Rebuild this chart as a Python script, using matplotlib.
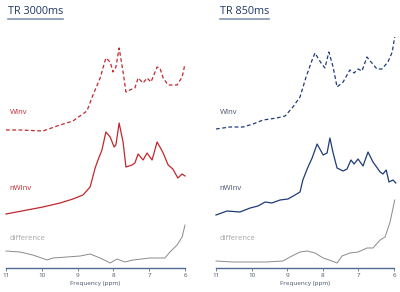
import matplotlib
matplotlib.use("Agg")
import matplotlib.pyplot as plt

# ---- data (ppm, relative intensity) ----
L_winv_ppm = [11.00, 10.61, 9.97, 9.49, 9.13, 8.74, 8.57, 8.37, 8.21, 8.09, 8.01, 7.93, 7.84, 7.73, 7.65,
              7.48, 7.40, 7.31, 7.17, 7.06, 6.95, 6.78, 6.70, 6.61, 6.47, 6.22, 6.08, 6.00]
L_winv_val = [138, 138, 137, 143, 147, 157, 173, 190, 210, 206, 196, 201, 220, 196, 176,
              179, 180, 190, 185, 190, 186, 201, 200, 190, 183, 183, 191, 204]

L_nwinv_ppm = [11.00, 10.41, 9.97, 9.49, 9.13, 8.85, 8.65, 8.51, 8.43, 8.32, 8.21, 8.09, 7.98, 7.93, 7.84,
               7.73, 7.65, 7.48, 7.40, 7.31, 7.17, 7.06, 6.92, 6.78, 6.70, 6.61, 6.47, 6.34, 6.20, 6.08, 6.00]
L_nwinv_val = [54, 58, 61, 65, 69, 73, 81, 100, 108, 118, 136, 131, 121, 123, 145,
               126, 101, 103, 105, 114, 108, 115, 108, 126, 121, 115, 103, 99, 90, 94, 92]

L_diff_ppm = [11.00, 10.61, 10.25, 9.85, 9.69, 9.30, 8.93, 8.65, 8.37, 8.09, 7.90, 7.68, 7.45, 6.98,
              6.56, 6.42, 6.22, 6.08, 6.00]
L_diff_val = [17, 16, 13, 8, 10, 11, 12, 14, 10, 5, 9, 6, 8, 10, 10, 16, 23, 31, 43]

R_winv_ppm = [11.00, 10.61, 10.24, 9.96, 9.68, 9.29, 9.06, 8.84, 8.64, 8.47, 8.30, 8.22, 8.05, 7.94, 7.83,
              7.71, 7.60, 7.43, 7.24, 7.12, 7.01, 6.90, 6.76, 6.62, 6.48, 6.34, 6.17, 6.05, 5.98]
R_winv_val = [139, 141, 141, 144, 148, 150, 152, 161, 171, 191, 208, 215, 205, 200, 216,
              201, 181, 186, 198, 195, 199, 197, 211, 205, 199, 199, 206, 216, 231]

R_nwinv_ppm = [11.00, 10.69, 10.33, 10.04, 9.82, 9.62, 9.43, 9.20, 8.98, 8.78, 8.64, 8.56, 8.44, 8.30, 8.16,
               7.99, 7.88, 7.80, 7.71, 7.60, 7.43, 7.32, 7.21, 7.12, 7.01, 6.87, 6.73, 6.59, 6.39, 6.31,
               6.22, 6.14, 6.03, 5.95]
R_nwinv_val = [53, 57, 56, 60, 62, 66, 65, 68, 69, 73, 76, 88, 99, 110, 124,
               113, 115, 130, 115, 100, 97, 99, 108, 104, 109, 102, 116, 106, 96, 94,
               98, 86, 88, 85]

R_diff_ppm = [11.00, 10.52, 10.04, 9.57, 9.12, 8.92, 8.64, 8.44, 8.22, 7.99, 7.74, 7.60, 7.46, 7.24,
              7.01, 6.76, 6.59, 6.39, 6.25, 6.11, 5.98]
R_diff_val = [7, 6, 6, 6, 7, 11, 16, 17, 15, 10, 7, 5, 12, 15, 16, 20, 20, 28, 31, 46, 68]

ticks = [11, 10, 9, 8, 7, 6]
titles = ["TR 3000ms", "TR 850ms"]
labels = ["WInv", "nWInv", "difference"]

RED = "#c0282d"
NAVY = "#1f3c78"
GRAY = "#8a8a8a"

plt.rcParams['font.family'] = ['Open Sans', 'DejaVu Sans']

fig = plt.figure(figsize=(4.0, 2.92), dpi=100)
W, H = 400, 292

def make_ax(x0, x1):
    top, bot = 30, 268
    ax = fig.add_axes([x0 / W, (H - bot) / H, (x1 - x0) / W, (bot - top) / H])
    ax.set_xlim(11, 6)
    ax.set_ylim(0, bot - top)
    for s in ['top', 'right', 'left']:
        ax.spines[s].set_visible(False)
    ax.spines['bottom'].set_color('#4f6a96')
    ax.spines['bottom'].set_linewidth(1.0)
    ax.set_yticks([])
    ax.set_xticks(ticks)
    ax.set_xticklabels([str(t) for t in ticks])
    ax.tick_params(axis='x', labelsize=4.5, colors='#44546a', length=2, width=0.5, pad=1.5)
    ax.set_xlabel("Frequency (ppm)", fontsize=4.6, color='#44546a', labelpad=2.5)
    ax.patch.set_alpha(0)
    return ax

axL = make_ax(6, 185)
axR = make_ax(216, 394)

axL.plot(L_winv_ppm, L_winv_val, color=RED, lw=0.9, ls=(0, (3, 2)), clip_on=False)
axL.plot(L_nwinv_ppm, L_nwinv_val, color=RED, lw=0.9, clip_on=False)
axL.plot(L_diff_ppm, L_diff_val, color=GRAY, lw=0.7, clip_on=False)

axR.plot(R_winv_ppm, R_winv_val, color=NAVY, lw=0.9, ls=(0, (3, 2)), clip_on=False)
axR.plot(R_nwinv_ppm, R_nwinv_val, color=NAVY, lw=0.9, clip_on=False)
axR.plot(R_diff_ppm, R_diff_val, color=GRAY, lw=0.7, clip_on=False)

# series labels
def lab(ax, y_px, text, color):
    ax.text(10.9, 268 - y_px, text, fontsize=5.5, color=color, va='center', ha='left')

lab(axL, 112, labels[0], RED)
lab(axL, 188, labels[1], RED)
lab(axL, 239, labels[2], "#a6a6a6")
lab(axR, 112, labels[0], "#44546a")
lab(axR, 189, labels[1], "#44546a")
lab(axR, 239, labels[2], "#a6a6a6")

# titles with underline
for tx, t in zip([8, 220], titles):
    txt = fig.text(tx / W, 1 - 12 / H, t, fontsize=7.8, color="#1f3864", va='center', ha='left')
    fig.canvas.draw()
    bb = txt.get_window_extent()
    fig.add_artist(plt.Line2D([bb.x0 / W, bb.x1 / W], [1 - 18.5 / H, 1 - 18.5 / H],
                              transform=fig.transFigure, color="#8496b0", lw=1.2))

fig.savefig("out.png", dpi=100)
